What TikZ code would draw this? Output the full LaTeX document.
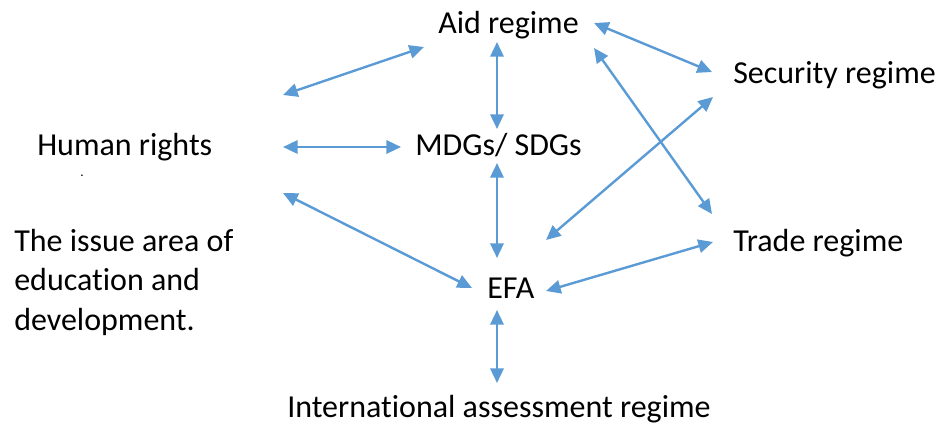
\documentclass[tikz,border=0pt]{standalone}
\usepackage{fontspec}
\setmainfont{Carlito}[Ligatures=NoCommon]
\usepackage{tikz}
\usetikzlibrary{arrows.meta}

\definecolor{linkblue}{RGB}{91,155,213}
\tikzset{
  label text/.style={anchor=base west,inner sep=0pt,font=\fontsize{24}{29.6}\selectfont},
  link/.style={draw=linkblue,line width=1.8pt,{Triangle[length=11pt,width=10pt]}-{Triangle[length=11pt,width=10pt]}}
}

\begin{document}
\begin{tikzpicture}[x=0.75pt,y=0.75pt,yscale=-1,xscale=1]
\useasboundingbox (0,0) rectangle (936,425);

% Text Node
\node[label text] (aid) at (438,33) {Aid regime};
% Text Node
\node[label text] (security) at (733,83) {Security regime};
% Text Node
\node[label text] (human) at (37,155) {Human rights};
% Text Node
\node[anchor=base west,inner sep=0pt,font=\fontsize{10}{12}\selectfont] (dot) at (80,176) {.};
% Text Node
\node[label text] (mdg) at (415,155) {MDGs/ SDGs};
% Text Node
\node[label text] (issue1) at (14,251) {The issue area of};
\node[label text] (issue2) at (14,290.5) {education and};
\node[label text] (issue3) at (14,330) {development.};
% Text Node
\node[label text] (efa) at (487,298) {EFA};
% Text Node
\node[label text] (trade) at (733,251) {Trade regime};
% Text Node
\node[label text] (assess) at (287,417) {International assessment regime};

% arrow ends
\coordinate (hrA) at (283,95);
\coordinate (hrB) at (283,147);
\coordinate (hrC) at (283,193);
\coordinate (aidL) at (424,47);
\coordinate (aidB) at (497,42);
\coordinate (aidR) at (594,23);
\coordinate (aidT) at (594,48);
\coordinate (mdgL) at (401,147);
\coordinate (mdgT) at (497,129);
\coordinate (mdgB) at (497,163);
\coordinate (secL) at (712,72);
\coordinate (secB) at (713,97);
\coordinate (efaT) at (497,258);
\coordinate (efaL) at (472,288);
\coordinate (efaX) at (546,240);
\coordinate (efaR) at (546,291);
\coordinate (efaB) at (497,310);
\coordinate (trdT) at (712,214);
\coordinate (trdL) at (713,242);
\coordinate (asmT) at (497,383);

%Straight Lines
\draw[link] (hrA) -- (aidL);
\draw[link] (hrB) -- (mdgL);
\draw[link] (hrC) -- (efaL);
\draw[link] (aidB) -- (mdgT);
\draw[link] (mdgB) -- (efaT);
\draw[link] (efaB) -- (asmT);
\draw[link] (aidR) -- (secL);
\draw[link] (aidT) -- (trdT);
\draw[link] (secB) -- (efaX);
\draw[link] (efaR) -- (trdL);

\end{tikzpicture}
\end{document}
